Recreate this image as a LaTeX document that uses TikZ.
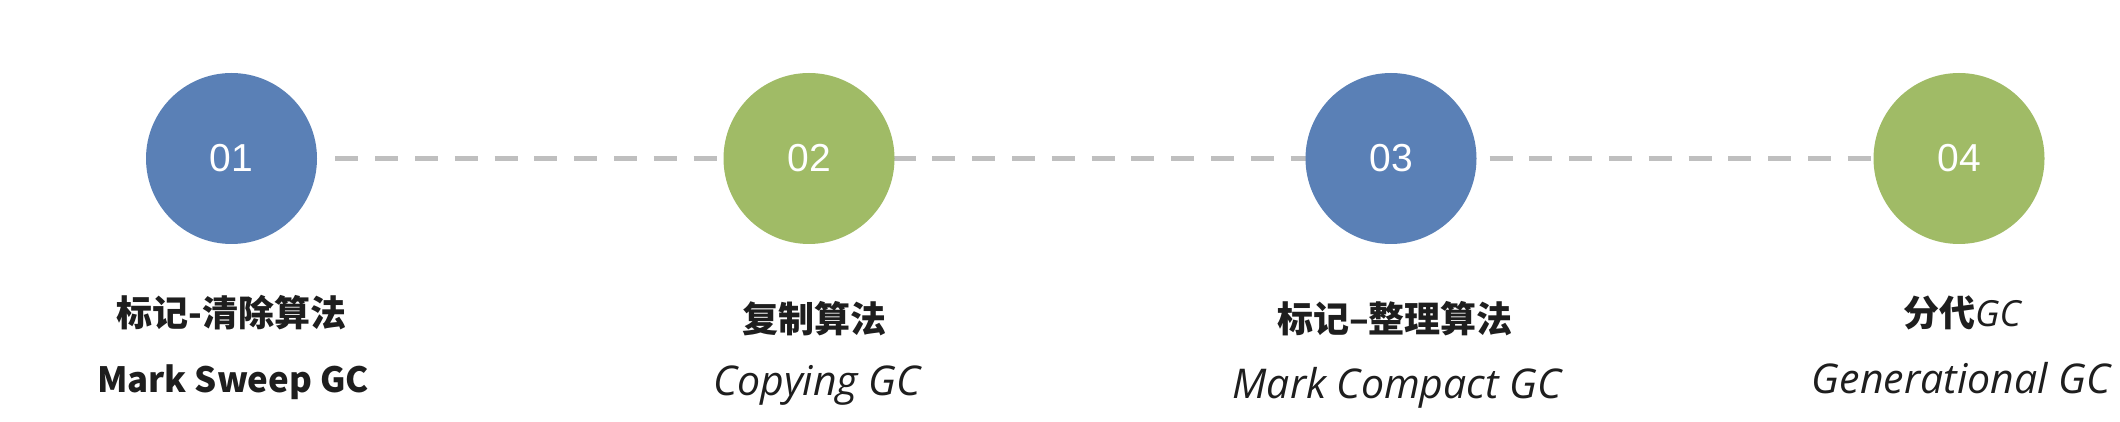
\documentclass[tikz,border=0pt]{standalone}
\usepackage{fontspec}
\setmainfont{Liberation Sans}
\newfontfamily\cjk{Noto Sans CJK SC}
\newfontfamily\hand{Open Sans}
\usetikzlibrary{backgrounds}
\definecolor{cblue}{HTML}{5A80B6}
\definecolor{cgreen}{HTML}{A0BB66}
\definecolor{cdash}{HTML}{BFBFBF}
\definecolor{ctext}{HTML}{1E1E1E}
\begin{document}
\begin{tikzpicture}[x=0.5pt,y=-0.5pt,
  num/.style={circle, minimum size=85.5pt, inner sep=0pt, text=white,
    font=\fontsize{19.5}{22}\selectfont},
  bluec/.style={num, fill=cblue},
  greenc/.style={num, fill=cgreen},
  title/.style={anchor=base, inner sep=0pt, text=ctext,
    font=\cjk\bfseries\fontsize{18}{22}\selectfont},
  engtitle/.style={title, font=\cjk\bfseries\fontsize{17.4}{22}\selectfont},
  sub/.style={anchor=base, inner sep=0pt, text=ctext,
    font=\hand\itshape\fontsize{20.5}{24}\selectfont},
  dashline/.style={draw=cdash, line width=2.5pt, dash pattern=on 11.5pt off 8.4pt}]
\useasboundingbox (0,0) rectangle (2120,422);
\node[bluec]  (c1) at (231.5,158.5) {01};
\node[greenc] (c2) at (809,158.5) {02};
\node[bluec]  (c3) at (1391,158.5) {03};
\node[greenc] (c4) at (1959,158.5) {04};
\begin{pgfonlayer}{background}
\fill[white] (0,0) rectangle (2120,422);
\draw[dashline] ([xshift=9pt]c1.east) -- (c4.center);
\end{pgfonlayer}
\node[title]    (t1) at (231.5,327) {标记-清除算法};
\node[engtitle] (e1) at (233,392) {Mark Sweep GC};
\node[title]    (t2) at (814,332) {复制算法};
\node[sub]      (e2) at (817,395) {Copying GC};
\node[title]    (t3) at (1395,332) {标记–整理算法};
\node[sub]      (e3) at (1397,398) {Mark Compact GC};
\node[title]    (t4) at (1962,327) {分代{\hand\itshape\mdseries GC}};
\node[sub]      (e4) at (1961,393) {Generational GC};
\end{tikzpicture}
\end{document}
